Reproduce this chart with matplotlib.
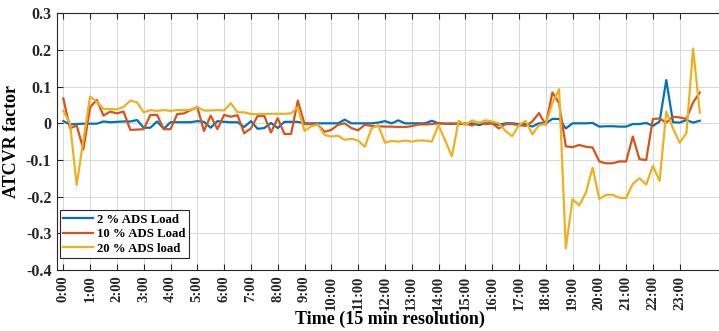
import matplotlib
matplotlib.use("Agg")
import matplotlib.pyplot as plt
import numpy as np

hour_labels = [f"{h}:00" for h in range(24)]
y_tick_values = [-0.4, -0.3, -0.2, -0.1, 0.0, 0.1, 0.2, 0.3]
y_tick_labels = ["-0.4", "-0.3", "-0.2", "-0.1", "0", "0.1", "0.2", "0.3"]

ads2 = [0.006, -0.003, -0.002, -0.001, -0.001, -0.001, 0.005, 0.003, 0.004, 0.005,
        0.005, 0.009, -0.012, -0.012, 0.005, -0.015, 0.003, 0.003, 0.003, 0.003,
        0.006, 0.004, -0.012, 0.006, 0.004, 0.003, 0.003, -0.010, 0.006, -0.015,
        -0.013, 0.001, -0.013, 0.004, 0.004, 0.004, 0.000, 0.000, 0.000, 0.000,
        0.000, 0.000, 0.010, 0.000, 0.000, 0.000, 0.000, 0.002, 0.006, 0.000,
        0.008, 0.000, 0.000, 0.000, 0.000, 0.007, 0.000, -0.001, -0.002, 0.000,
        -0.003, 0.000, -0.005, 0.000, 0.000, -0.004, 0.000, 0.000, -0.002, -0.002,
        -0.009, 0.000, 0.000, 0.012, 0.012, -0.014, 0.000, 0.000, 0.000, 0.001,
        -0.009, -0.008, -0.008, -0.009, -0.009, -0.002, -0.002, 0.001, -0.007, 0.005,
        0.118, 0.003, 0.002, 0.009, 0.002, 0.007]

ads10 = [0.068, -0.014, -0.006, -0.071, 0.044, 0.064, 0.021, 0.032, 0.027, 0.032,
         -0.018, -0.017, -0.016, 0.023, 0.023, -0.016, -0.016, 0.025, 0.027, 0.036,
         0.044, -0.021, 0.021, -0.016, 0.023, 0.018, 0.022, -0.027, -0.014, 0.020,
         0.020, -0.025, 0.014, -0.029, -0.029, 0.062, -0.002, -0.002, -0.004, -0.023,
         -0.018, -0.004, 0.000, -0.013, -0.019, -0.004, -0.007, -0.008, -0.009, -0.009,
         -0.010, -0.010, -0.008, -0.003, -0.003, -0.002, 0.000, -0.001, 0.000, -0.002,
         0.000, -0.006, 0.002, -0.002, 0.000, -0.014, -0.002, -0.002, -0.005, -0.007,
         0.005, 0.028, -0.004, 0.084, 0.055, -0.063, -0.065, -0.059, -0.064, -0.066,
         -0.104, -0.109, -0.109, -0.104, -0.104, -0.036, -0.098, -0.100, 0.012, 0.013,
         0.002, 0.018, 0.016, 0.012, 0.057, 0.084]

ads20 = [0.034, 0.000, -0.168, -0.045, 0.073, 0.059, 0.039, 0.039, 0.038, 0.045,
         0.062, 0.057, 0.030, 0.036, 0.034, 0.036, 0.034, 0.036, 0.036, 0.037,
         0.044, 0.035, 0.035, 0.036, 0.035, 0.055, 0.030, 0.030, 0.025, 0.025,
         0.025, 0.026, 0.026, 0.026, 0.027, 0.044, -0.021, -0.008, -0.003, -0.032,
         -0.036, -0.034, -0.045, -0.042, -0.047, -0.064, -0.014, -0.005, -0.053, -0.048,
         -0.050, -0.047, -0.050, -0.047, -0.047, -0.050, -0.005, -0.047, -0.090, 0.007,
         -0.004, 0.008, 0.001, 0.008, 0.005, 0.000, -0.021, -0.035, -0.005, 0.007,
         -0.030, -0.005, -0.002, 0.055, 0.093, -0.341, -0.207, -0.224, -0.189, -0.121,
         -0.206, -0.195, -0.195, -0.203, -0.204, -0.165, -0.150, -0.167, -0.116, -0.157,
         0.032, -0.014, -0.053, -0.027, 0.204, 0.029]

series_names = ["2 % ADS Load", "10 % ADS Load", "20 % ADS load"]
colors = ["#0072BD", "#D95319", "#EDB120"]

plt.rcParams['font.family'] = ['Liberation Serif', 'DejaVu Serif']
plt.rcParams['font.weight'] = 'bold'

W, H = 719, 331
fig = plt.figure(figsize=(W / 100, H / 100), dpi=100)
left, right, top, bottom = 57, 722, 13.3, 270
ax = fig.add_axes([left / W, 1 - bottom / H, (right - left) / W, (bottom - top) / H])

idx = np.arange(len(ads2))
for data, name, c in zip([ads2, ads10, ads20], series_names, colors):
    ax.plot(idx, data, color=c, lw=1.6, label=name)

px_per_idx = 6.7
x0 = 63.3
ax.set_xlim((left - x0) / px_per_idx, (right - x0) / px_per_idx)
ax.set_ylim(-0.4, 0.3)
ax.set_yticks(y_tick_values)
ax.set_yticklabels(y_tick_labels, fontsize=11.5, fontweight='bold')
ax.set_xticks(np.arange(0, 96, 4))
ax.set_xticklabels(hour_labels, rotation=90, fontsize=10.5, fontweight='bold')

ax.grid(True, color='#d9d9d9', lw=0.7)
ax.set_axisbelow(True)
ax.tick_params(direction='in', length=4, width=0.8, top=True, right=False, colors='#262626', pad=4)
for s in ax.spines.values():
    s.set_color('#262626')
    s.set_linewidth(0.8)
ax.spines['right'].set_visible(False)

ax.set_ylabel("ATCVR factor", fontsize=13, fontweight='bold', labelpad=4)
ax.set_xlabel("Time (15 min resolution)", fontsize=13, fontweight='bold', labelpad=1)

leg = ax.legend(loc='lower left', bbox_to_anchor=(0.004, 0.045),
                fancybox=False, edgecolor='#262626', framealpha=1,
                handlelength=2.3, borderpad=0.3, labelspacing=0.2, handletextpad=0.3,
                borderaxespad=0.0, prop={'weight': 'bold', 'size': 9.2})
leg.get_frame().set_linewidth(0.8)

fig.savefig("out.png", dpi=100)
